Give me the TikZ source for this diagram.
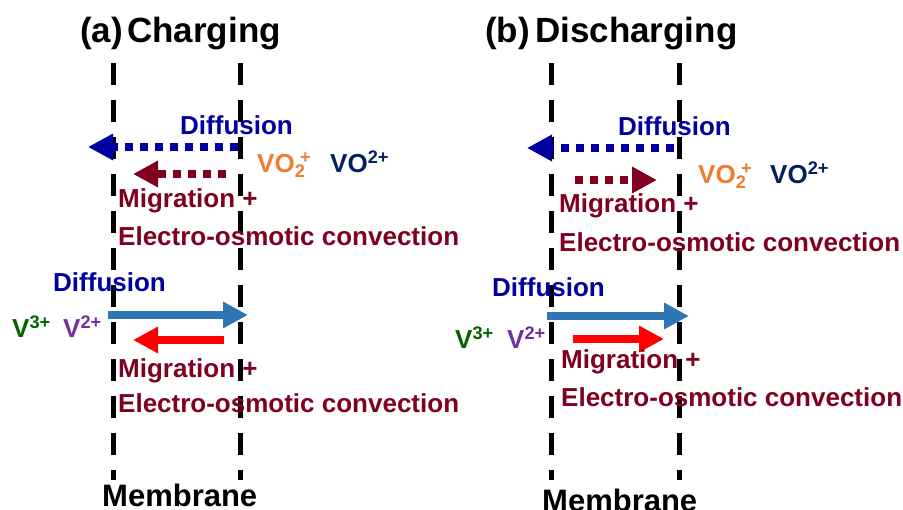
\documentclass[tikz,border=0pt]{standalone}
\usepackage{fontspec}
\setmainfont{Liberation Sans}
\usetikzlibrary{arrows.meta}
\definecolor{difblue}{HTML}{0000A0}
\definecolor{migred}{HTML}{800020}
\definecolor{vorange}{HTML}{ED7D31}
\definecolor{vnavy}{HTML}{002060}
\definecolor{steel}{HTML}{2E75B6}
\definecolor{vgreen}{HTML}{006400}
\definecolor{vpurple}{HTML}{7030A0}

\begin{document}
\begin{tikzpicture}[x=1pt,y=-1pt,
  ttl/.style={anchor=base west,inner sep=0pt,font=\fontsize{35}{40}\selectfont\bfseries},
  lbl/.style={anchor=base west,inner sep=0pt,font=\fontsize{26}{30}\selectfont\bfseries},
  ion/.style={anchor=base west,inner sep=0pt,font=\fontsize{26}{30}\selectfont\bfseries},
  membr/.style={black,line width=5pt,dash pattern=on 22pt off 15pt},
  dotarr/.style={line width=8pt,dash pattern=on 8pt off 7pt,-{Triangle[length=25pt,width=25pt]}},
  solarr/.style={line width=8pt,-{Triangle[length=25pt,width=25pt]}}]
\useasboundingbox (0,0) rectangle (903,510);

% (a) charging
\coordinate (mA1t) at (113,63);
\coordinate (mA1b) at (113,480);
\coordinate (mA2t) at (240,63);
\coordinate (mA2b) at (240,480);
\draw[membr] (mA1t) -- (mA1b);
\draw[membr] (mA2t) -- (mA2b);
\node[ttl] (labA) at (80,43) {(a)};
\node[ttl] (titA) at (127,43) {Charging};
\node[lbl,difblue] (difA1) at (180,135) {Diffusion};
\coordinate (dA1s) at (238,147);
\coordinate (dA1e) at (88,147);
\draw[dotarr,difblue] (dA1s) -- (dA1e);
\coordinate (gA1s) at (226,174);
\coordinate (gA1e) at (133,174);
\draw[dotarr,migred] (gA1s) -- (gA1e);
\node[ion,vorange] (vo2A) at (257,173) {VO\textsubscript{2}\kern-0.2em\textsuperscript{+}};
\node[ion,vnavy] (voA) at (330,173) {VO\textsuperscript{2+}};
\node[lbl,migred] (migA1) at (118,208) {Migration +};
\node[lbl,migred] (eoA1) at (118,246) {Electro-osmotic convection};
\node[lbl,difblue] (difA2) at (53,292) {Diffusion};
\coordinate (dA2s) at (108,315);
\coordinate (dA2e) at (248,315);
\draw[solarr,steel] (dA2s) -- (dA2e);
\coordinate (gA2s) at (224,340);
\coordinate (gA2e) at (133,340);
\draw[solarr,red] (gA2s) -- (gA2e);
\node[ion,vgreen] (v3A) at (12,338) {V\textsuperscript{3+}};
\node[ion,vpurple] (v2A) at (63,338) {V\textsuperscript{2+}};
\node[lbl,migred] (migA2) at (118,378) {Migration +};
\node[lbl,migred] (eoA2) at (118,413) {Electro-osmotic convection};
\node[ttl,font=\fontsize{31}{36}\selectfont\bfseries] (memA) at (102,507) {Membrane};

% (b) discharging
\coordinate (mB1t) at (551,63);
\coordinate (mB1b) at (551,480);
\coordinate (mB2t) at (679,63);
\coordinate (mB2b) at (679,480);
\draw[membr] (mB1t) -- (mB1b);
\draw[membr] (mB2t) -- (mB2b);
\node[ttl] (labB) at (485,43) {(b)};
\node[ttl] (titB) at (535,43) {Discharging};
\node[lbl,difblue] (difB1) at (618,136) {Diffusion};
\coordinate (dB1s) at (674,148);
\coordinate (dB1e) at (527,148);
\draw[dotarr,difblue] (dB1s) -- (dB1e);
\coordinate (gB1s) at (575,180);
\coordinate (gB1e) at (657,180);
\draw[dotarr,migred] (gB1s) -- (gB1e);
\node[ion,vorange] (vo2B) at (698,184) {VO\textsubscript{2}\kern-0.2em\textsuperscript{+}};
\node[ion,vnavy] (voB) at (770,184) {VO\textsuperscript{2+}};
\node[lbl,migred] (migB1) at (559,213) {Migration +};
\node[lbl,migred] (eoB1) at (559,252) {Electro-osmotic convection};
\node[lbl,difblue] (difB2) at (492,297) {Diffusion};
\coordinate (dB2s) at (547,316);
\coordinate (dB2e) at (689,316);
\draw[solarr,steel] (dB2s) -- (dB2e);
\coordinate (gB2s) at (573,339);
\coordinate (gB2e) at (664,339);
\draw[solarr,red] (gB2s) -- (gB2e);
\node[ion,vgreen] (v3B) at (455,349) {V\textsuperscript{3+}};
\node[ion,vpurple] (v2B) at (507,349) {V\textsuperscript{2+}};
\node[lbl,migred] (migB2) at (561,369) {Migration +};
\node[lbl,migred] (eoB2) at (561,407) {Electro-osmotic convection};
\node[ttl,font=\fontsize{31}{36}\selectfont\bfseries] (memB) at (542,512) {Membrane};
\end{tikzpicture}
\end{document}
